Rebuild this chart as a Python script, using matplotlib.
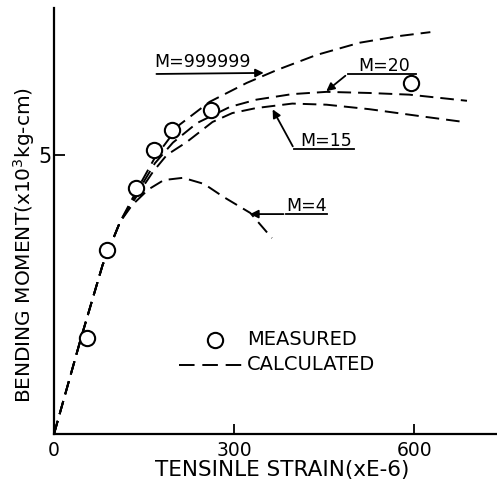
import matplotlib
matplotlib.use("Agg")
import matplotlib.pyplot as plt
import numpy as np

# measured points (strain x1e-6, moment x10^3 kg-cm)
meas_x = [55, 88, 137, 167, 197, 262, 595]
meas_y = [1.72, 3.30, 4.41, 5.09, 5.45, 5.81, 6.29]

# calculated curves
m999_x = [0, 45, 81, 110, 138, 168, 209, 259, 321, 371, 437, 509, 575, 627]
m999_y = [0, 1.72, 3.03, 3.80, 4.37, 4.95, 5.54, 5.95, 6.29, 6.52, 6.79, 7.01, 7.13, 7.20]

m20_x = [0, 45, 81, 110, 140, 168, 198, 238, 293, 337, 397, 454, 525, 592, 688]
m20_y = [0, 1.72, 3.03, 3.80, 4.35, 4.85, 5.22, 5.57, 5.86, 5.99, 6.09, 6.13, 6.11, 6.08, 5.97]

m15_x = [0, 45, 81, 110, 140, 165, 188, 221, 264, 297, 337, 397, 454, 525, 620, 683]
m15_y = [0, 1.72, 3.03, 3.80, 4.30, 4.70, 5.00, 5.23, 5.59, 5.75, 5.84, 5.92, 5.90, 5.82, 5.68, 5.59]

m4_x = [0, 45, 81, 110, 130, 157, 183, 215, 250, 282, 327, 363]
m4_y = [0, 1.72, 3.03, 3.80, 4.10, 4.38, 4.55, 4.59, 4.48, 4.25, 3.96, 3.51]

fig = plt.figure(figsize=(4.97, 4.79), dpi=100)
ax = fig.add_axes([0.1087, 0.094, 0.8913, 0.889])

ds = (0, (7, 3.6))
lw = 1.4
for xs, ys in [(m999_x, m999_y), (m20_x, m20_y), (m15_x, m15_y), (m4_x, m4_y)]:
    ax.plot(xs, ys, color="black", lw=lw, linestyle=ds)

ax.plot(meas_x, meas_y, "o", ms=11, mfc="white", mec="black", mew=1.5, ls="none")

ax.set_xlim(0, 738)
ax.set_ylim(0, 7.63)
ax.set_xticks([0, 300, 600])
ax.set_yticks([5])
ax.set_yticklabels(["5"])
ax.tick_params(axis="x", direction="in", length=7, width=1.3, pad=5, labelsize=13.5)
ax.tick_params(axis="y", direction="in", length=8, width=1.3, pad=2, labelsize=15)
for s in ["top", "right"]:
    ax.spines[s].set_visible(False)
for s in ["left", "bottom"]:
    ax.spines[s].set_linewidth(1.6)

ax.set_xlabel("TENSINLE STRAIN(xE-6)", fontsize=15.5)
ax.xaxis.set_label_coords(0.515, -0.062)
ax.set_ylabel(r"BENDING MOMENT(x10$^3$kg-cm)", fontsize=14.5)
ax.yaxis.set_label_coords(-0.038, 0.444)

# legend drawn by hand
ax.plot([269], [1.68], "o", ms=11, mfc="white", mec="black", mew=1.5)
ax.text(321, 1.70, "MEASURED", fontsize=14, va="center", ha="left")
ax.plot([209, 317], [1.24, 1.24], color="black", lw=lw, linestyle=(0, (8, 4)))
ax.text(322, 1.24, "CALCULATED", fontsize=14, va="center", ha="left")

# curve labels
arr = dict(arrowstyle="-|>", color="black", lw=1.3, mutation_scale=12)
fs = 12.5
ax.text(248, 6.67, "M=999999", fontsize=fs, ha="center", va="center")
ax.annotate("", xy=(354, 6.47), xytext=(166, 6.45), arrowprops=arr)

ax.text(550, 6.59, "M=20", fontsize=fs, ha="center", va="center")
ax.plot([489, 603], [6.45, 6.45], color="black", lw=1.3)
ax.annotate("", xy=(450, 6.11), xytext=(489, 6.45), arrowprops=arr)

ax.text(454, 5.25, "M=15", fontsize=fs, ha="center", va="center")
ax.plot([400, 500], [5.11, 5.11], color="black", lw=1.3)
ax.annotate("", xy=(362, 5.86), xytext=(400, 5.11), arrowprops=arr)

ax.text(420, 4.09, "M=4", fontsize=fs, ha="center", va="center")
ax.plot([387, 454], [3.94, 3.94], color="black", lw=1.3)
ax.annotate("", xy=(322, 3.94), xytext=(387, 3.94), arrowprops=arr)

fig.savefig("out.png", dpi=100)
